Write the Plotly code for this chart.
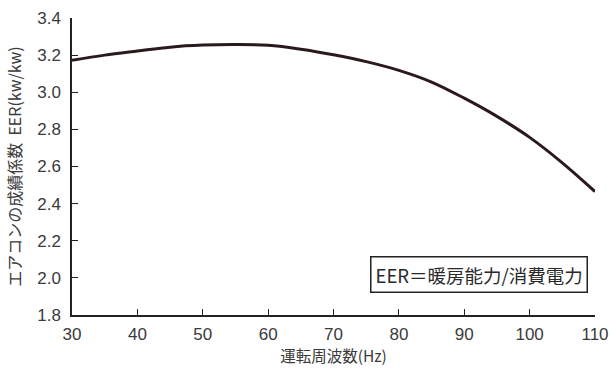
import plotly.graph_objects as go

freq_hz = [30, 35, 40, 45, 50, 55, 60, 65, 70, 75, 80, 85, 90, 95, 100, 105, 110]
eer = [3.172, 3.200, 3.222, 3.243, 3.254, 3.257, 3.253, 3.232, 3.202, 3.165, 3.118, 3.055, 2.968, 2.870, 2.757, 2.620, 2.465]

x_ticks = [30, 40, 50, 60, 70, 80, 90, 100, 110]
y_ticks = [1.8, 2.0, 2.2, 2.4, 2.6, 2.8, 3.0, 3.2, 3.4]

x_title = "運転周波数(Hz)"
y_title = "エアコンの成績係数  EER(kw/kw)"
note = "EER＝暖房能力/消費電力"

tick_font = dict(family="Liberation Sans Narrow, Liberation Sans, Arial", size=17, color="#3a3a3a")
x_title_font = dict(family="Noto Sans CJK JP, Noto Sans, sans-serif", size=15.5, color="#3a3a3a")
y_title_font = dict(family="Noto Sans CJK JP, Noto Sans, sans-serif", size=16, color="#3a3a3a")

fig = go.Figure()
fig.add_trace(go.Scatter(
    x=freq_hz, y=eer, mode="lines",
    line=dict(color="#2b1a1c", width=3, shape="spline", smoothing=1.0),
    showlegend=False, hoverinfo="skip",
))

fig.update_xaxes(
    range=[30, 110], tickvals=x_ticks, ticktext=[str(v) for v in x_ticks],
    showline=True, linecolor="#222", linewidth=1.5, mirror=False,
    ticks="inside", ticklen=6, tickwidth=1.2, tickcolor="#222",
    showgrid=False, zeroline=False, tickfont=tick_font, ticklabelstandoff=3,
    automargin=False,
    title=dict(text=x_title, font=x_title_font, standoff=4),
)
fig.update_yaxes(
    range=[1.8, 3.4], tickvals=y_ticks, ticktext=[f"{v:.1f}" for v in y_ticks],
    showline=True, linecolor="#222", linewidth=1.5, mirror=False,
    ticks="inside", ticklen=6, tickwidth=1.2, tickcolor="#222",
    showgrid=False, zeroline=False, tickfont=tick_font, ticklabelstandoff=6,
    automargin=False,
    title=dict(text=y_title, font=y_title_font, standoff=12),
)

fig.add_annotation(
    xref="paper", yref="paper", x=0.987, y=0.138, xanchor="right", yanchor="middle",
    text=note, showarrow=False,
    font=dict(family="Noto Sans CJK JP, Noto Sans, sans-serif", size=18.5, color="#2a2a2a"),
    bordercolor="#222", borderwidth=1.5, borderpad=4, bgcolor="white",
)

fig.update_layout(
    width=610, height=371,
    margin=dict(l=72, r=15, t=18, b=56),
    paper_bgcolor="white", plot_bgcolor="white",
)

fig.write_html("out.html", config={"displayModeBar": False},
               post_script="document.body.style.margin='0';")
